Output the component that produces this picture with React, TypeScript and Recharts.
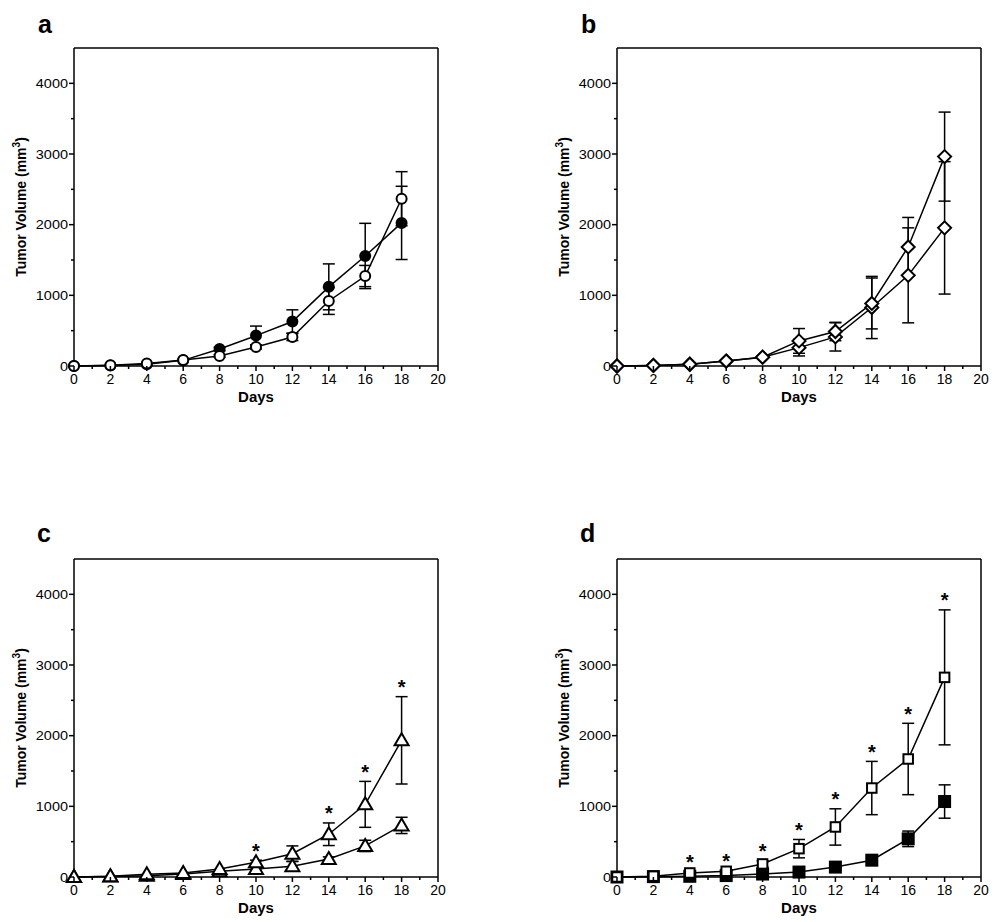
import React from 'react';
import { LineChart, Line, XAxis, YAxis, ErrorBar, ReferenceLine } from 'recharts';

// ---------------- data ----------------
const days = [0, 2, 4, 6, 8, 10, 12, 14, 16, 18];
const xTicks = [0, 1, 2, 3, 4, 5, 6, 7, 8, 9, 10, 11, 12, 13, 14, 15, 16, 17, 18, 19, 20];
const yTicks = [0, 500, 1000, 1500, 2000, 2500, 3000, 3500, 4000];
const xDomain = [0, 20];
const yDomain = [0, 4500];

// panel a : filled circles / open circles
const aFilled = [0, 8, 25, 80, 240, 430, 630, 1120, 1557, 2025];
const aFilledErr = [0, 0, 0, 0, 25, 135, 165, 325, 462, 518];
const aOpen = [0, 12, 35, 85, 142, 270, 410, 920, 1273, 2367];
const aOpenErr = [0, 0, 0, 0, 20, 30, 50, 190, 150, 383];

// panel b : two open-diamond groups
const bUpper = [0, 8, 25, 70, 125, 355, 488, 885, 1685, 2963];
const bUpperErr = [0, 0, 0, 0, 15, 175, 130, 360, 417, 630];
const bLower = [0, 8, 25, 70, 125, 260, 412, 828, 1283, 1955];
const bLowerErr = [0, 0, 0, 0, 15, 118, 200, 440, 672, 937];

// panel c : two open-triangle groups
const cUpper = [0, 12, 38, 57, 113, 208, 330, 605, 1028, 1934];
const cUpperErr = [0, 0, 0, 0, 0, 30, 110, 160, 325, 618];
const cLower = [0, 8, 19, 42, 80, 113, 151, 255, 440, 730];
const cLowerErr = [0, 0, 0, 0, 0, 20, 70, 30, 80, 115];
const cSig = [false, false, false, false, false, true, false, true, true, true];

// panel d : open squares / filled squares
const dOpen = [0, 12, 57, 81, 185, 401, 708, 1259, 1670, 2825];
const dOpenErr = [0, 0, 20, 5, 45, 130, 257, 377, 505, 955];
const dFilled = [0, 5, 10, 20, 42, 70, 140, 238, 540, 1068];
const dFilledErr = [0, 0, 0, 0, 0, 15, 20, 30, 110, 236];
const dSig = [false, false, true, true, true, true, true, true, true, true];

// ---------------- layout ----------------
const FONT = '"Liberation Sans", Arial, Helvetica, sans-serif';
const Y_AXIS_W = 74;
const PLOT_W = 364;
const PLOT_H = 318;
const M_TOP = 40;
const M_RIGHT = 30;
const X_AXIS_H = 60;

type Shape = 'circle' | 'diamond' | 'triangle' | 'square';
type SeriesDef = { key: string; values: number[]; errors: number[]; shape: Shape; filled: boolean };

const makeDot = (shape: Shape, filled: boolean) => (props: any) => {
  const { cx, cy, index, value } = props;
  if (cx == null || cy == null || value == null || isNaN(cx) || isNaN(cy)) return <g key={`n${index}`} />;
  const fill = filled ? '#000' : '#fff';
  const common = { fill, stroke: '#000', strokeWidth: 2 };
  if (shape === 'circle') return <circle key={`d${index}`} cx={cx} cy={cy} r={5} {...common} />;
  if (shape === 'diamond') {
    const r = 6.5;
    return <polygon key={`d${index}`} points={`${cx},${cy - r} ${cx + r},${cy} ${cx},${cy + r} ${cx - r},${cy}`} {...common} />;
  }
  if (shape === 'triangle') {
    return <polygon key={`d${index}`} points={`${cx},${cy - 7} ${cx + 7},${cy + 5} ${cx - 7},${cy + 5}`} {...common} strokeLinejoin="miter" />;
  }
  const s = filled ? 11 : 9.5;
  return <rect key={`d${index}`} x={cx - s / 2} y={cy - s / 2} width={s} height={s} {...common} />;
};

const starDot = (props: any) => {
  const { cx, cy, index, value } = props;
  if (cx == null || cy == null || value == null || isNaN(cy)) return <g key={`s${index}`} />;
  return (
    <text key={`s${index}`} x={cx} y={cy - 2.5} textAnchor="middle" fontSize={20} fontWeight="bold" fontFamily={FONT} fill="#000">
      *
    </text>
  );
};

const XTick = (props: any) => {
  const { x, y, payload } = props;
  const v = payload.value;
  const major = v % 2 === 0;
  return (
    <g>
      <line x1={x} y1={y} x2={x} y2={y + (major ? 5 : 3)} stroke="#000" strokeWidth={1.5} />
      {major && (
        <text x={x} y={y + 17.5} textAnchor="middle" fontSize={14} fontFamily={FONT} fill="#000">
          {v}
        </text>
      )}
    </g>
  );
};

const YTick = (props: any) => {
  const { x, y, payload } = props;
  const v = payload.value;
  const major = v % 1000 === 0;
  return (
    <g>
      <line x1={x - (major ? 5 : 3)} y1={y} x2={x} y2={y} stroke="#000" strokeWidth={1.5} />
      {major && (
        <text transform={`translate(${x - 6},${y + 4.5}) scale(1,0.85)`} textAnchor="end" fontSize={14.5} fontFamily={FONT} fill="#000">
          {v}
        </text>
      )}
    </g>
  );
};

const xLabel = (p: any) => {
  const vb = p.viewBox || {};
  const cx = (vb.x ?? Y_AXIS_W) + (vb.width ?? PLOT_W) / 2;
  const y = (vb.y ?? M_TOP + PLOT_H) + 36;
  return (
    <text x={cx} y={y} textAnchor="middle" fontSize={15} fontWeight="bold" fontFamily={FONT} fill="#000">
      Days
    </text>
  );
};

const yLabel = (p: any) => {
  const vb = p.viewBox || {};
  const x = (vb.x ?? 0) + 26;
  const y = (vb.y ?? M_TOP) + (vb.height ?? PLOT_H) / 2;
  return (
    <text x={x} y={y} transform={`rotate(-90, ${x}, ${y})`} textAnchor="middle" fontSize={14} fontWeight="bold" fontFamily={FONT} fill="#000">
      Tumor Volume (mm<tspan dy={-6} fontSize={10}>3</tspan><tspan dy={6}>)</tspan>
    </text>
  );
};

function Panel({ plotLeft, plotTop, series, sig, sigSeries }: { plotLeft: number; plotTop: number; series: SeriesDef[]; sig?: boolean[]; sigSeries?: SeriesDef }) {
  const data = days.map((d, i) => {
    const row: any = { day: d };
    series.forEach((s) => {
      row[s.key] = s.values[i];
      row[s.key + 'Err'] = s.errors[i];
    });
    if (sig && sigSeries) row.star = sig[i] ? sigSeries.values[i] + sigSeries.errors[i] : null;
    return row;
  });
  const W = Y_AXIS_W + PLOT_W + M_RIGHT;
  const H = M_TOP + PLOT_H + X_AXIS_H;
  return (
    <div style={{ position: 'absolute', left: plotLeft - Y_AXIS_W, top: plotTop - M_TOP, width: W, height: H }}>
      <LineChart width={W} height={H} data={data} margin={{ top: M_TOP, right: M_RIGHT, bottom: 0, left: 0 }} style={{ fontFamily: FONT }}>
        <XAxis
          dataKey="day"
          type="number"
          domain={xDomain}
          ticks={xTicks}
          interval={0}
          height={X_AXIS_H}
          tickSize={0}
          tickMargin={0}
          tickLine={false}
          tick={<XTick />}
          axisLine={{ stroke: '#000', strokeWidth: 1.5 }}
          label={xLabel}
        />
        <YAxis
          type="number"
          domain={yDomain}
          ticks={yTicks}
          interval={0}
          width={Y_AXIS_W}
          tickSize={0}
          tickMargin={0}
          tickLine={false}
          tick={<YTick />}
          axisLine={{ stroke: '#000', strokeWidth: 1.5 }}
          label={yLabel}
        />
        <ReferenceLine y={4500} stroke="#000" strokeWidth={1.5} />
        <ReferenceLine x={20} stroke="#000" strokeWidth={1.5} />
        {series.map((s) => (
          <Line
            key={s.key}
            dataKey={s.key}
            type="linear"
            stroke="#000"
            strokeWidth={1.5}
            dot={makeDot(s.shape, s.filled)}
            activeDot={false}
            isAnimationActive={false}
          >
            <ErrorBar dataKey={s.key + 'Err'} direction="y" width={6} stroke="#000" strokeWidth={1.5} />
          </Line>
        ))}
        {sig && (
          <Line dataKey="star" type="linear" stroke="none" dot={starDot} activeDot={false} isAnimationActive={false} connectNulls={false} />
        )}
      </LineChart>
    </div>
  );
}

const aSeries: SeriesDef[] = [
  { key: 'filled', values: aFilled, errors: aFilledErr, shape: 'circle', filled: true },
  { key: 'open', values: aOpen, errors: aOpenErr, shape: 'circle', filled: false },
];
const bSeries: SeriesDef[] = [
  { key: 'lower', values: bLower, errors: bLowerErr, shape: 'diamond', filled: false },
  { key: 'upper', values: bUpper, errors: bUpperErr, shape: 'diamond', filled: false },
];
const cSeries: SeriesDef[] = [
  { key: 'lower', values: cLower, errors: cLowerErr, shape: 'triangle', filled: false },
  { key: 'upper', values: cUpper, errors: cUpperErr, shape: 'triangle', filled: false },
];
const dSeries: SeriesDef[] = [
  { key: 'filled', values: dFilled, errors: dFilledErr, shape: 'square', filled: true },
  { key: 'open', values: dOpen, errors: dOpenErr, shape: 'square', filled: false },
];

const panelLetters = [
  { t: 'a', x: 38, y: 33 },
  { t: 'b', x: 581, y: 33 },
  { t: 'c', x: 37, y: 542 },
  { t: 'd', x: 580, y: 542 },
];

export default function App() {
  return (
    <div style={{ position: 'absolute', left: 0, top: 0, width: 1005, height: 922, background: '#fff', overflow: 'hidden' }}>
      <Panel plotLeft={74} plotTop={48} series={aSeries} />
      <Panel plotLeft={617} plotTop={48} series={bSeries} />
      <Panel plotLeft={74} plotTop={559} series={cSeries} sig={cSig} sigSeries={cSeries[1]} />
      <Panel plotLeft={617} plotTop={559} series={dSeries} sig={dSig} sigSeries={dSeries[1]} />
      <svg width={1005} height={922} style={{ position: 'absolute', left: 0, top: 0, pointerEvents: 'none' }}>
        {panelLetters.map((l) => (
          <text key={l.t} x={l.x} y={l.y} fontSize={25} fontWeight="bold" fontFamily={FONT} fill="#000">
            {l.t}
          </text>
        ))}
      </svg>
    </div>
  );
}
